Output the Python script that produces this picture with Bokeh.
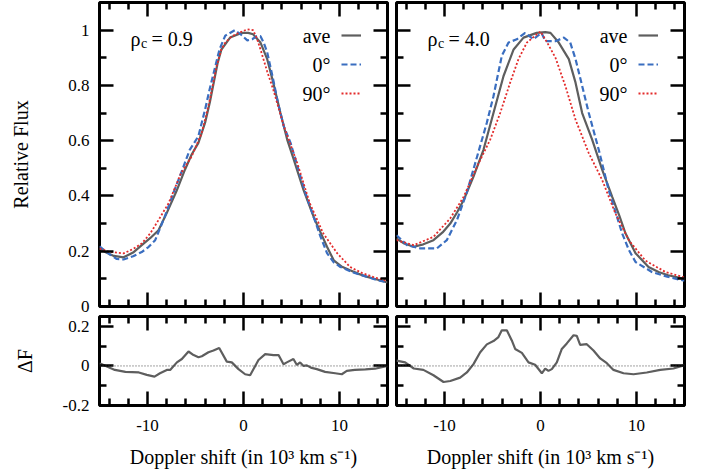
from bokeh.plotting import figure
from bokeh.layouts import column, row
from bokeh.models import (Range1d, FixedTicker, LinearAxis, Label, Legend,
                          LegendItem, Span)
from bokeh.embed import file_html
from bokeh.resources import INLINE

# ---------------- data ----------------
# rho_c = 0.9 panel
x_l_ave = [-15, -14.3, -13.5, -12.5, -11.5, -10.6, -9.7, -8.85, -8.0, -7.0, -6.1, -5.4, -4.7, -4.0, -3.5,
           -3.1, -2.7, -2.3, -1.4, -0.2, 0.5, 1.0, 1.77, 2.47, 3.1, 3.85, 4.55, 5.24, 6.25, 7.3, 8.0,
           8.7, 9.4, 10.2, 11.1, 12.0, 12.9, 14.0, 15]
f_l_ave = [0.21, 0.195, 0.183, 0.178, 0.195, 0.222, 0.248, 0.276, 0.338, 0.416, 0.495, 0.55, 0.592, 0.665, 0.74,
           0.81, 0.88, 0.93, 0.973, 0.99, 0.99, 0.985, 0.955, 0.895, 0.81, 0.70, 0.604, 0.531, 0.422, 0.325, 0.27,
           0.216, 0.167, 0.145, 0.131, 0.118, 0.107, 0.097, 0.087]
x_l_0 = [-15, -14, -13.2, -12.5, -11.5, -10.6, -9.9, -9.2, -8.2, -7.2, -6.5, -5.6, -4.7, -4.0, -3.5, -3.1,
         -2.5, -1.9, -0.9, -0.3, 0.4, 0.9, 1.4, 1.77, 2.1, 2.47, 3.1, 3.6, 4.2, 4.9, 5.94, 6.6, 7.3, 8.0,
         8.7, 9.4, 10.1, 11.5, 12.9, 14, 15]
f_l_0 = [0.218, 0.19, 0.172, 0.17, 0.182, 0.197, 0.215, 0.24, 0.325, 0.42, 0.483, 0.567, 0.616, 0.713, 0.79, 0.846,
         0.93, 0.98, 1.0, 0.985, 0.963, 0.967, 0.978, 0.978, 0.955, 0.92, 0.82, 0.735, 0.652, 0.592, 0.47, 0.395,
         0.325, 0.255, 0.193, 0.16, 0.143, 0.122, 0.107, 0.095, 0.087]
x_l_90 = [-15, -14, -12.5, -11.5, -10.6, -9.7, -8.85, -7.8, -6.5, -5.4, -4.35, -3.9, -3.5, -2.8, -2.3, -1.9,
          -1.2, -0.5, 0.4, 1.0, 1.4, 1.77, 2.47, 3.1, 4.2, 5.6, 6.9, 8.3, 9.75, 11.1, 12.3, 13.5, 15]
f_l_90 = [0.21, 0.198, 0.192, 0.208, 0.228, 0.265, 0.313, 0.374, 0.483, 0.543, 0.628, 0.69, 0.749, 0.87, 0.93,
          0.955, 0.978, 0.99, 1.003, 1.0, 0.97, 0.93, 0.85, 0.785, 0.652, 0.519, 0.374, 0.265, 0.193, 0.143,
          0.122, 0.107, 0.092]

# rho_c = 4.0 panel
x_r_ave = [-15, -14.2, -13.2, -12.2, -11.15, -10.2, -9.4, -8.7, -8.0, -6.98, -5.94, -4.9, -3.85, -2.8, -1.77,
           -0.4, 0.5, 1.04, 1.9, 2.95, 3.65, 4.34, 5.38, 6.42, 7.47, 8.2, 8.85, 9.9, 11.25, 12.3, 13.3, 15]
f_r_ave = [0.246, 0.228, 0.216, 0.225, 0.24, 0.268, 0.30, 0.34, 0.385, 0.47, 0.567, 0.70, 0.834, 0.93, 0.973,
           0.99, 0.993, 0.99, 0.955, 0.895, 0.81, 0.70, 0.604, 0.495, 0.397, 0.33, 0.265, 0.193, 0.143, 0.125,
           0.113, 0.10]
x_r_0 = [-15, -13.9, -12.5, -10.8, -9.76, -8.7, -7.7, -6.6, -5.6, -4.9, -4.03, -3.33, -2.47, -1.6, -0.73, 0.1,
         0.52, 1.56, 2.43, 3.1, 3.65, 4.17, 5.03, 6.07, 7.1, 8.5, 9.2, 9.9, 11.6, 13.2, 15]
f_r_0 = [0.258, 0.222, 0.21, 0.21, 0.24, 0.313, 0.41, 0.543, 0.664, 0.761, 0.907, 0.955, 0.967, 0.99, 0.967, 0.99,
         0.96, 0.96, 0.973, 0.955, 0.895, 0.822, 0.70, 0.567, 0.422, 0.265, 0.205, 0.161, 0.125, 0.108, 0.093]
x_r_90 = [-15, -13.2, -11.15, -9.4, -8.0, -6.6, -5.24, -4.2, -3.16, -2.3, -1.42, -0.38, 0.0, 0.7, 1.56, 2.6,
          3.65, 5.03, 6.42, 7.8, 9.2, 10.9, 13.0, 15]
f_r_90 = [0.24, 0.222, 0.252, 0.319, 0.397, 0.507, 0.604, 0.70, 0.81, 0.895, 0.955, 0.985, 0.995, 0.955, 0.90,
          0.797, 0.676, 0.555, 0.458, 0.337, 0.24, 0.167, 0.125, 0.105]

# Delta F panels
x_l_df = [-15, -14.76, -13.4, -12.3, -10.9, -10.07, -9.27, -8.7, -7.99, -7.64, -6.94, -6.42, -5.73, -5.2, -4.69,
          -4.34, -3.65, -3.13, -2.53, -1.74, -1.22, -0.52, 0.17, 0.69, 1.56, 2.26, 3.13, 3.65, 4.17, 4.51, 5.2,
          5.56, 5.9, 6.25, 6.6, 7.1, 7.64, 8.5, 9.55, 10.24, 10.76, 11.6, 12.7, 13.7, 15]
df_l = [0.012, 0.009, -0.02, -0.03, -0.033, -0.045, -0.054, -0.037, -0.02, -0.02, 0.018, 0.035, 0.073, 0.055,
        0.044, 0.049, 0.069, 0.078, 0.091, 0.022, 0.018, -0.016, -0.042, -0.047, 0.03, 0.06, 0.055, 0.055, 0.009,
        0.018, 0.035, 0.005, 0.018, 0.0, 0.003, -0.01, -0.016, -0.03, -0.037, -0.042, -0.025, -0.02, -0.017,
        -0.014, 0.0]
x_r_df = [-15, -14.1, -13.2, -12.2, -11.15, -10.1, -9.4, -8.37, -7.67, -6.98, -6.28, -5.59, -4.9, -4.38, -4.03,
          -3.51, -2.99, -2.64, -1.94, -1.25, -0.56, 0.14, 0.49, 0.83, 1.18, 1.7, 2.22, 2.74, 3.44, 3.78, 4.13,
          4.82, 5.52, 6.22, 6.91, 7.6, 8.65, 9.69, 11.07, 12.47, 13.85, 15]
df_r = [0.027, 0.018, -0.013, -0.02, -0.047, -0.081, -0.076, -0.059, -0.033, 0.009, 0.069, 0.109, 0.126, 0.146,
        0.18, 0.18, 0.129, 0.086, 0.066, 0.018, 0.006, -0.037, -0.013, -0.025, -0.016, 0.018, 0.086, 0.114,
        0.155, 0.152, 0.107, 0.11, 0.078, 0.038, 0.014, -0.02, -0.037, -0.042, -0.033, -0.02, -0.013, 0.004]

x_ticks = [-10, 0, 10]
x_tick_labels = ["-10", "0", "10"]
x_minor = [-14, -12, -8, -6, -4, -2, 2, 4, 6, 8, 12, 14]
flux_ticks = [0, 0.2, 0.4, 0.6, 0.8, 1.0]
flux_tick_labels = ["0", "0.2", "0.4", "0.6", "0.8", "1"]
flux_minor = [0.1, 0.3, 0.5, 0.7, 0.9]
df_ticks = [-0.2, 0, 0.2]
df_tick_labels = ["-0.2", "0", "0.2"]
df_minor = [-0.1, 0.1]
series_names = ["ave", "0°", "90°"]
panel_values = ["0.9", "4.0"]

# ---------------- style ----------------
FONT = "Liberation Serif"
C_AVE, C_0, C_90 = "#5e5e5e", "#3a6ec0", "#e32b2b"

FW, TOP_FH, BOT_FH = 288, 304, 89
LEFT_B, MID_L, MID_R, RIGHT_B = 99, 5, 4, 12


def base_fig(width, height, yr, mbl, mbr, mbt, mbb):
    p = figure(width=width, height=height, x_range=Range1d(-15, 15), y_range=Range1d(*yr),
               output_backend="svg", toolbar_location=None, x_axis_location=None,
               y_axis_location=None, min_border_left=mbl, min_border_right=mbr,
               min_border_top=mbt, min_border_bottom=mbb)
    p.grid.visible = False
    p.outline_line_color = "black"
    p.outline_line_width = 3
    p.outline_line_alpha = 1
    p.background_fill_color = "white"
    p.border_fill_color = "white"
    return p


def add_axis(p, side, ticks, minor, labels=None, axis_label=None, label_size="17px",
             label_standoff=10, axis_label_standoff=10):
    ax = LinearAxis(ticker=FixedTicker(ticks=ticks, minor_ticks=minor))
    ax.major_tick_in = 14
    ax.major_tick_out = 0
    ax.minor_tick_in = 7
    ax.minor_tick_out = 0
    ax.major_tick_line_width = 2.5
    ax.minor_tick_line_width = 2.5
    ax.major_tick_line_color = "black"
    ax.minor_tick_line_color = "black"
    ax.axis_line_color = None
    if labels is not None:
        ax.major_label_overrides = dict(zip(ticks, labels))
        ax.major_label_text_font = FONT
        ax.major_label_text_font_size = label_size
        ax.major_label_text_color = "black"
        ax.major_label_standoff = label_standoff
    else:
        # mirrored axis: ticks only, labels switched off
        ax.major_label_text_alpha = 0
        ax.major_label_text_color = None
        ax.major_label_standoff = 0
    if axis_label is not None:
        ax.axis_label = axis_label
        ax.axis_label_text_font = FONT
        ax.axis_label_text_font_size = "20px"
        ax.axis_label_text_font_style = "normal"
        ax.axis_label_text_color = "black"
        ax.axis_label_standoff = axis_label_standoff
    p.add_layout(ax, side)
    return ax


def screen_label(p, x, y, text, size, align="left", baseline="alphabetic"):
    p.add_layout(Label(x=x, y=y, x_units="screen", y_units="screen", text=text,
                       text_font=FONT, text_font_size=size, text_align=align,
                       text_baseline=baseline, text_color="black"))


def flux_panel(left, xa, fa, x0, f0, x90, f90, value_text, ylab):
    if left:
        p = base_fig(LEFT_B + FW + MID_L, 2 + TOP_FH + 9, (0, 1.1), LEFT_B, MID_L, 2, 9)
        add_axis(p, "left", flux_ticks, flux_minor, flux_tick_labels, ylab, axis_label_standoff=33)
    else:
        p = base_fig(MID_R + FW + RIGHT_B, 2 + TOP_FH + 9, (0, 1.1), MID_R, RIGHT_B, 2, 9)
        add_axis(p, "left", flux_ticks, flux_minor)
    add_axis(p, "right", flux_ticks, flux_minor)
    add_axis(p, "below", x_ticks, x_minor)
    add_axis(p, "above", x_ticks, x_minor)

    r_ave = p.line(xa, fa, line_color=C_AVE, line_width=2.2)
    r_0 = p.line(x0, f0, line_color=C_0, line_width=2.2, line_dash="6 3")
    r_90 = p.line(x90, f90, line_color=C_90, line_width=1.8, line_dash="2 2")

    # legend: line samples from a Legend (its own labels hidden), texts right-aligned before them
    legend = Legend(items=[LegendItem(label=series_names[0], renderers=[r_ave]),
                           LegendItem(label=series_names[1], renderers=[r_0]),
                           LegendItem(label=series_names[2], renderers=[r_90])],
                    location=(242, 203), padding=0, margin=0, border_line_color=None,
                    background_fill_alpha=0, glyph_width=20, glyph_height=20,
                    label_height=20, label_width=10, spacing=9, label_standoff=2,
                    label_text_font_size="10px", label_text_alpha=0,
                    label_text_color=None)
    p.add_layout(legend)
    for i, name in enumerate(series_names):
        screen_label(p, 231, TOP_FH - 33 - 29 * i, name, "20px", align="right", baseline="middle")

    base_y = TOP_FH - 36
    screen_label(p, 31, base_y, "ρ", "20px")
    screen_label(p, 41.5, base_y - 5, "c", "14px")
    screen_label(p, 52, base_y, "= " + value_text, "20px")
    return p


def df_panel(left, xd, dd):
    if left:
        p = base_fig(LEFT_B + FW + MID_L, 1 + BOT_FH + 65, (-0.2, 0.25), LEFT_B, MID_L, 1, 65)
        add_axis(p, "left", df_ticks, df_minor, df_tick_labels, "ΔF", axis_label_standoff=24)
    else:
        p = base_fig(MID_R + FW + RIGHT_B, 1 + BOT_FH + 65, (-0.2, 0.25), MID_R, RIGHT_B, 1, 65)
        add_axis(p, "left", df_ticks, df_minor)
    add_axis(p, "right", df_ticks, df_minor)
    add_axis(p, "below", x_ticks, x_minor, x_tick_labels, "Doppler shift (in 10³ km s⁻¹)",
             label_standoff=14, axis_label_standoff=12)
    add_axis(p, "above", x_ticks, x_minor)
    p.add_layout(Span(location=0, dimension="width", line_color="#444444", line_width=1,
                      line_dash="1 2"))
    p.line(xd, dd, line_color=C_AVE, line_width=2.2)
    return p


tl = flux_panel(True, x_l_ave, f_l_ave, x_l_0, f_l_0, x_l_90, f_l_90, panel_values[0], "Relative Flux")
tr = flux_panel(False, x_r_ave, f_r_ave, x_r_0, f_r_0, x_r_90, f_r_90, panel_values[1], None)
bl = df_panel(True, x_l_df, df_l)
br = df_panel(False, x_r_df, df_r)

layout = column(row(tl, tr), row(bl, br))

open("out.html", "w").write(file_html(layout, INLINE))
